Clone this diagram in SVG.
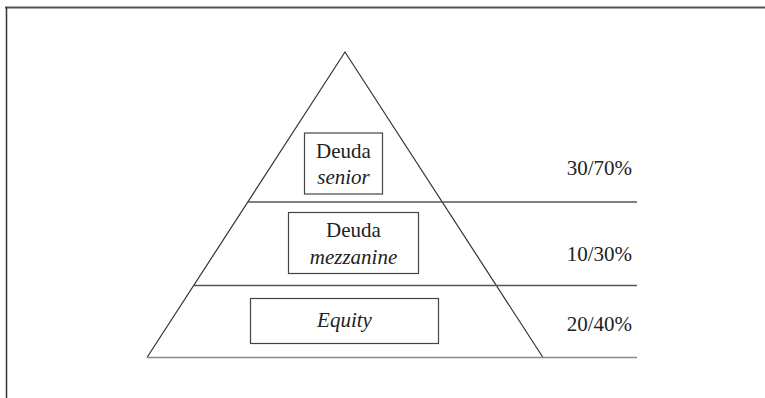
<svg xmlns="http://www.w3.org/2000/svg" width="765" height="398" viewBox="0 0 765 398">
<style>
.frame{stroke:#555;fill:none}
.edge{stroke:#333;stroke-width:1.2;fill:none}
.hl{stroke:#555;stroke-width:1.3;fill:none}
.box{stroke:#444;stroke-width:1.2;fill:#fff}
text{font-family:'Liberation Serif','Times New Roman',Times,serif;font-size:21px;fill:#222}
.it{font-style:italic}
.c{text-anchor:middle}
</style>
<rect width="765" height="398" fill="#fff"/>
<g id="frame">
<line class="frame" x1="5" y1="7.5" x2="765" y2="7.5" stroke-width="2"/>
<line class="frame" x1="6.5" y1="7" x2="6.5" y2="398" stroke-width="1.5" style="stroke:#333"/>
</g>
<g id="connectors">
<polyline class="edge" points="147,357.5 345,52 543,357.5"/>
<line class="hl" x1="247" y1="202" x2="637" y2="202"/>
<line class="hl" x1="193" y1="285.5" x2="637" y2="285.5"/>
<line class="hl" x1="147" y1="357.5" x2="637" y2="357.5" style="stroke:#888;stroke-width:1.6"/>
</g>
<g id="senior">
<rect class="box" x="304.5" y="133" width="78" height="61"/>
<text class="c" x="343.5" y="157.5">Deuda</text>
<text class="c it" x="343.5" y="183.5">senior</text>
</g>
<g id="mezzanine">
<rect class="box" x="288.5" y="212.5" width="130" height="61"/>
<text class="c" x="353.5" y="237">Deuda</text>
<text class="c it" x="353.5" y="263.5">mezzanine</text>
</g>
<g id="equity">
<rect class="box" x="250.5" y="298.5" width="188" height="45"/>
<text class="c it" x="344.5" y="327">Equity</text>
</g>
<g id="labels">
<text x="632" y="174.5" text-anchor="end">30/70%</text>
<text x="632" y="261" text-anchor="end">10/30%</text>
<text x="632" y="330.5" text-anchor="end">20/40%</text>
</g>
</svg>
